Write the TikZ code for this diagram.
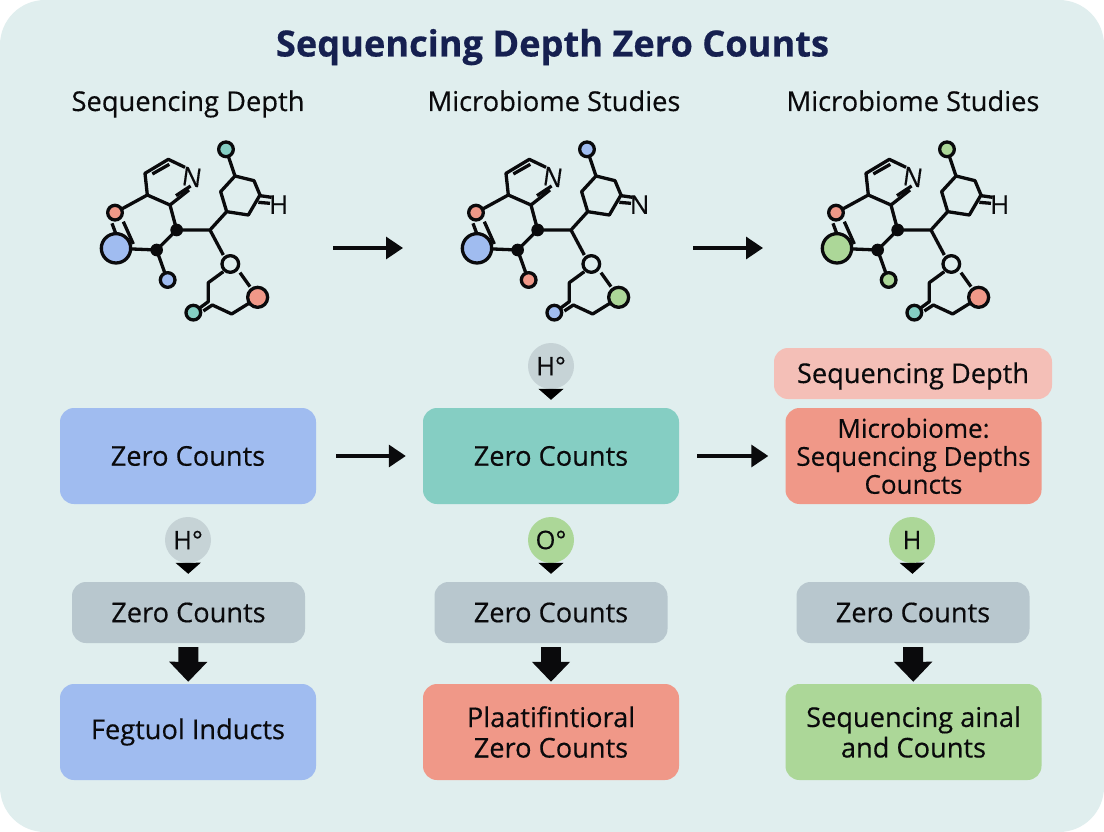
\documentclass[tikz,border=0pt]{standalone}
\usepackage{fontspec}
\setmainfont[FakeBold=0.35]{Open Sans}
\newfontfamily\titlefont[FakeBold=0.5]{Open Sans Bold}
\usepackage{xcolor}
\usetikzlibrary{arrows.meta,positioning,calc}
\definecolor{bg}{RGB}{224,238,238}
\definecolor{ink}{RGB}{10,10,12}
\definecolor{ti}{RGB}{22,32,80}
\definecolor{bl}{RGB}{160,188,240}
\definecolor{te}{RGB}{133,206,195}
\definecolor{ro}{RGB}{240,152,136}
\definecolor{gr}{RGB}{172,215,152}
\definecolor{gy}{RGB}{184,199,206}
\definecolor{pk}{RGB}{244,191,183}
\definecolor{bd}{RGB}{198,211,214}
\tikzset{
  head/.style={font=\fontsize{27.3}{30}\selectfont,text=ink,inner sep=0pt,text height=20pt,text depth=6pt},
  box/.style={rectangle,rounded corners=14pt,align=center,text=ink,inner sep=0pt,
    font=\fontsize{27.2}{28.5}\selectfont},
  bigbox/.style={box,minimum width=256pt,minimum height=96pt},
  graybox/.style={box,fill=gy,minimum width=233pt,minimum height=61pt},
  badge/.style={circle,minimum size=46pt,inner sep=0pt,text=ink,
    font=\fontsize{25.5}{28}\selectfont},
  pin/.style={-{Triangle[width=25pt,length=11pt]},line width=1pt,shorten >=8pt},
  flow/.style={-{Triangle[width=22pt,length=17pt]},line width=3.2pt,ink},
  blockarrow/.style={-{Triangle[width=37pt,length=20pt]},line width=20pt,ink,
    shorten <=4pt,shorten >=2pt},
  atomlabel/.style={font=\fontsize{26}{28}\selectfont,text=ink,inner sep=0pt},
}
% #1 x shift, #2 big, #3 small, #4 top, #5 lower left, #6 lower right, #7 letter
\newcommand{\Molecule}[7]{
  \begin{scope}[shift={(#1,130)},x=0.3333pt,y=-0.3333pt,line width=3.3pt,ink,line join=round]
    % rings and bonds
    \draw (172,195) -- (165,130) -- (235,88) -- (285,112);
    \draw (172,195) -- (240,225) -- (297,180);
    \draw (187,132) -- (238,103);
    \draw (258,197) -- (302,168);
    \draw (75,248) -- (172,195);
    \draw (240,225) -- (260,300) -- (360,300) -- (410,245);
    \draw (360,300) -- (400,375);
    \draw (260,300) -- (200,360) -- (78,355);
    \draw (200,360) -- (232,450);
    \draw (66,280) -- (80,318);
    \draw (100,275) -- (130,342);
    \draw (410,245) -- (392,185) -- (435,138) -- (492,152) -- (510,195) -- (475,255) -- cycle;
    \draw (435,138) -- (408,58);
    \draw (510,197) -- (545,202);
    \draw (505,217) -- (540,220);
    \draw (400,425) -- (355,458) -- (355,515) -- (325,537);
    \draw (340,543) -- (367,525) -- (425,552) -- (480,518);
    \draw (450,428) -- (480,470);
    % atoms
    \draw[fill=#2] (78,355) circle (44);
    \draw[fill=ro] (75,248) circle (22);
    \draw[fill=#3] (233,450) circle (22);
    \draw[fill=#4] (408,58) circle (22);
    \draw[fill=#5] (310,548) circle (22);
    \draw[fill=#6] (503,502) circle (30);
    \draw[fill=bg] (421,402) circle (25);
    \fill (260,300) circle (19);
    \fill (200,360) circle (19);
    \node[atomlabel,rotate=-8] (n#1) at (306,141) {N};
    \node[atomlabel] (l#1) at (566,224) {#7};
  \end{scope}
}

\begin{document}
\begin{tikzpicture}[x=1pt,y=-1pt]
  \useasboundingbox (0,0) rectangle (1104,832);
  \fill[white] (0,0) rectangle (1104,832);
  \fill[bg,rounded corners=45pt] (0,0) rectangle (1104,832);

  \node[font=\titlefont\fontsize{36.2}{40}\selectfont,text=ti,inner sep=0pt,text height=27pt,text depth=8pt] (title) at (552.5,47) {Sequencing Depth Zero Counts};

  % headings
  \node[head] (h1) at (188,104) {Sequencing Depth};
  \node[head] (h2) at (554,104) {Microbiome Studies};
  \node[head] (h3) at (913,104) {Microbiome Studies};

  % molecules
  \Molecule{90}{bl}{bl}{te}{te}{ro}{H}
  \Molecule{451}{bl}{ro}{bl}{bl}{gr}{N}
  \Molecule{811}{gr}{gr}{gr}{te}{ro}{H}
  \coordinate (m1) at (333,248);
  \coordinate (m2) at (403,248);
  \coordinate (m3) at (693,248);
  \coordinate (m4) at (763,248);
  \draw[flow] (m1) -- (m2);
  \draw[flow] (m3) -- (m4);

  % top row
  \node[bigbox,fill=bl] (zc1) at (188,456) {Zero Counts};
  \node[bigbox,fill=te] (zc2) at (551,456) {Zero Counts};
  \node[bigbox,fill=ro,font=\fontsize{26}{28}\selectfont] (zc3) at (913.5,456) {Microbiome:\\Sequencing Depths\\Councts};
  \node[box,fill=pk,minimum width=278pt,minimum height=51pt,text height=20pt,text depth=1pt] (sd) at (913,373.5) {Sequencing Depth};
  \node[badge,fill=bd] (bt) at (551,366) {H°};
  \draw[pin] (bt) -- (zc2);
  \draw[flow,shorten <=20pt,shorten >=17pt] (zc1) -- (zc2);
  \draw[flow,shorten <=18pt,shorten >=17pt] (zc2) -- (zc3);

  % badges
  \node[badge,fill=bd] (b1) at (188,540) {H°};
  \node[badge,fill=gr] (b2) at (551,540) {O°};
  \node[badge,fill=gr] (b3) at (912,540) {H};

  % gray row
  \node[graybox] (g1) at (188.5,612.5) {Zero Counts};
  \node[graybox] (g2) at (551,612.5) {Zero Counts};
  \node[graybox] (g3) at (913,612.5) {Zero Counts};
  \draw[pin] (b1) -- (g1);
  \draw[pin] (b2) -- (g2);
  \draw[pin] (b3) -- (g3);

  % bottom row
  \node[bigbox,fill=bl] (e1) at (188,732) {Fegtuol Inducts};
  \node[bigbox,fill=ro] (e2) at (551,732) {Plaatifintioral\\[2pt]Zero Counts};
  \node[bigbox,fill=gr] (e3) at (913.5,732) {Sequencing ainal\\[2pt]and Counts};
  \draw[blockarrow] (g1) -- (e1);
  \draw[blockarrow] (g2) -- (e2);
  \draw[blockarrow] (g3) -- (e3);
\end{tikzpicture}
\end{document}
